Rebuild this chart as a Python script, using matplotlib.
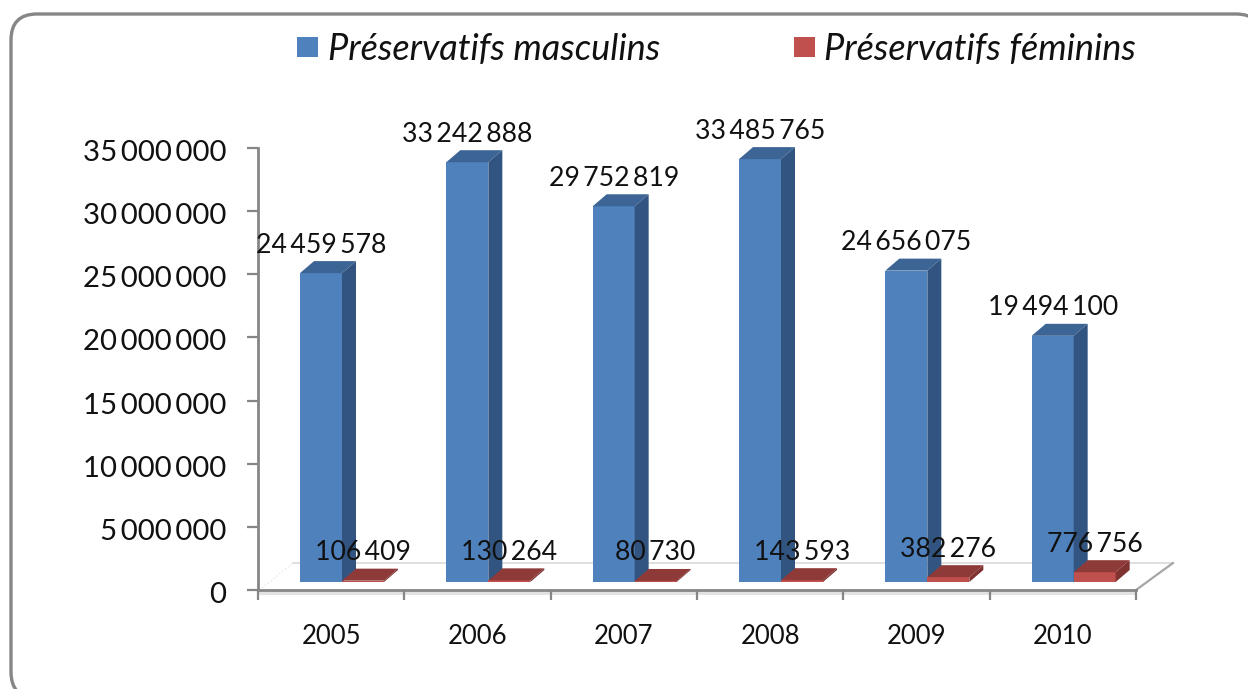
import numpy as np
import matplotlib
matplotlib.use('Agg')
import matplotlib.pyplot as plt
from matplotlib.patches import Polygon, FancyBboxPatch, Rectangle
from matplotlib.transforms import ScaledTranslation

years = ['2005', '2006', '2007', '2008', '2009', '2010']
masculins = [24459578, 33242888, 29752819, 33485765, 24656075, 19494100]
feminins = [106409, 130264, 80730, 143593, 382276, 776756]
y_ticks = [0, 5000000, 10000000, 15000000, 20000000, 25000000, 30000000, 35000000]
legend_labels = ['Préservatifs masculins', 'Préservatifs féminins']

W, H = 1248, 689
plt.rcParams['font.family'] = ['Lato', 'DejaVu Sans']


def spaced(v):
    # thin gaps between thousands, like the french number format
    return f'{v:,}'.replace(',', '\u2009')


def box(left, top, right, bottom):
    return [left / W, 1 - bottom / H, (right - left) / W, (bottom - top) / H]


fig = plt.figure(figsize=(W / 100, H / 100), dpi=100)

# overlay in pixel coordinates for frame and floor
bg = fig.add_axes([0, 0, 1, 1], zorder=0)
bg.set_xlim(0, W)
bg.set_ylim(H, 0)
bg.axis('off')
bg.add_patch(FancyBboxPatch((11, 14), 1251, 684, boxstyle='round,pad=0,rounding_size=26',
                            fc='white', ec='#868686', lw=2.4))
bg.plot([293, 1173], [563, 563], color='#d9d9d9', lw=1.2)
bg.plot([1136, 1173], [590, 563], color='#a6a6a6', lw=1.6)
bg.plot([262, 293], [588, 563], color='#e8e8e8', lw=1, ls=':')
bg.add_patch(Rectangle((258, 591), 878, 4, fc='#e2e2e2', ec='none'))

# axis with the ticks
ax = fig.add_axes(box(258, 148, 1136, 590), zorder=1)
ax.patch.set_alpha(0)
ax.set_xlim(0, 6)
ax.set_ylim(0, 35000000)
ax.spines['top'].set_visible(False)
ax.spines['right'].set_visible(False)
ax.spines['left'].set_color('#868686')
ax.spines['bottom'].set_color('#868686')
ax.spines['left'].set_linewidth(2)
ax.spines['bottom'].set_linewidth(2)
ax.set_yticks(y_ticks)
ax.set_yticklabels([spaced(v) for v in y_ticks])
ax.set_xticks(np.arange(7))
ax.set_xticklabels([])
ax.tick_params(axis='y', length=8, width=1.6, color='#868686', labelsize=21.2, pad=15, labelcolor='#111111')
ax.tick_params(axis='x', length=7, width=1.6, color='#868686')
shift = ScaledTranslation(0, -1.8 / 72, fig.dpi_scale_trans)
for lab in ax.get_yticklabels():
    lab.set_transform(lab.get_transform() + shift)
for i, year in enumerate(years):
    bg.text(258 + (i + 0.5) * 878 / 6, 636, year, ha='center', va='center', fontsize=18.5, color='#111111')

# bars stand on the floor, a few pixels above the axis line
front = fig.add_axes(box(258, 148 - 8, 1136, 590 - 8), zorder=2)
front.patch.set_alpha(0)
front.axis('off')
front.set_xlim(0, 6)
front.set_ylim(0, 35000000)

bar_w = 42 / (878 / 6)
start = 42 / (878 / 6)
depth_x = 14 / (878 / 6)
depth_y = 12 * 35000000 / 442

series = [(masculins, start, '#4f81bd', '#3c6595', '#325480'),
          (feminins, start + bar_w, '#c0504d', '#8e3a38', '#7f3230')]

for vals, off, c_front, c_top, c_side in series:
    xs = np.arange(6) + off
    front.bar(xs, vals, width=bar_w, align='edge', color=c_front, zorder=3)
    for x, v in zip(xs, vals):
        r = x + bar_w
        front.add_patch(Polygon([(x, v), (r, v), (r + depth_x, v + depth_y), (x + depth_x, v + depth_y)],
                                fc=c_top, ec='none', zorder=3))
        front.add_patch(Polygon([(r, 0), (r + depth_x, depth_y), (r + depth_x, v + depth_y), (r, v)],
                                fc=c_side, ec='none', zorder=3))
        front.annotate(spaced(v), (x + bar_w / 2, v), xytext=(0, 28 * 0.72), textcoords='offset points',
                       ha='center', va='center', fontsize=19.2, color='#111111', zorder=5)

# legend
top = fig.add_axes([0, 0, 1, 1], zorder=3)
top.set_xlim(0, W)
top.set_ylim(H, 0)
top.axis('off')
top.add_patch(Rectangle((297, 37), 21, 20, fc='#4f81bd', ec='none'))
top.add_patch(Rectangle((794, 37), 21, 20, fc='#c0504d', ec='none'))
top.text(328, 49, legend_labels[0], style='italic', fontsize=26, va='center', color='#111111')
top.text(824, 49, legend_labels[1], style='italic', fontsize=26, va='center', color='#111111')

fig.savefig('out.png', dpi=100)
